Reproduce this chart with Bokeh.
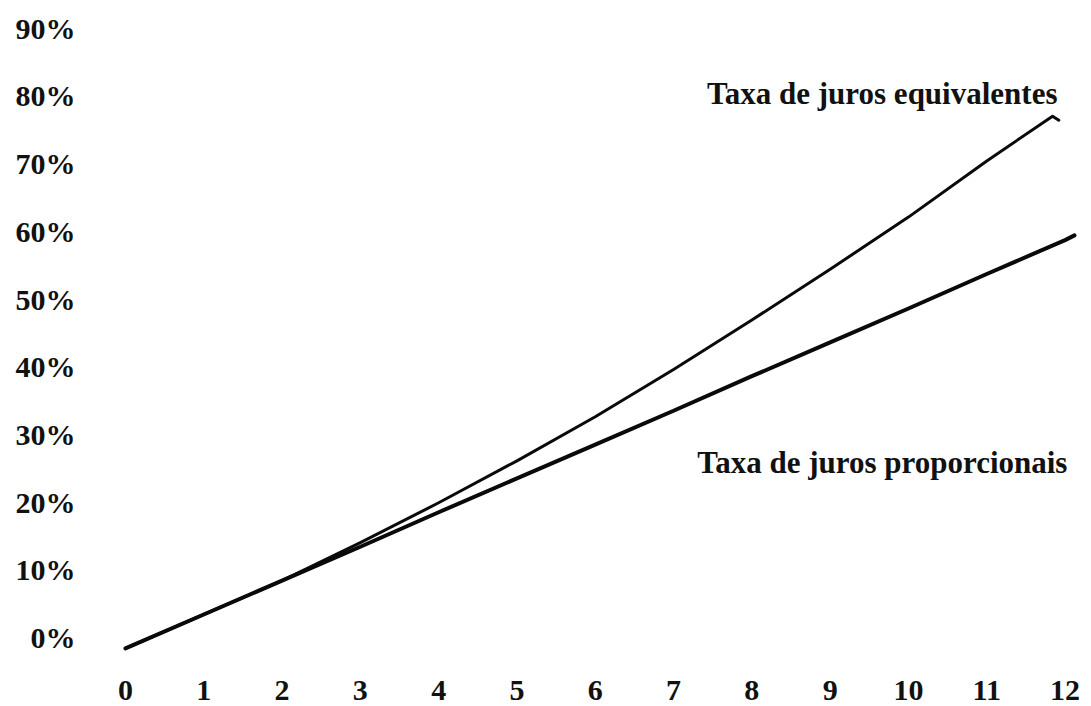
from bokeh.plotting import figure
from bokeh.models import Range1d, FixedTicker, Label
from bokeh.embed import file_html
from bokeh.resources import INLINE

# Data (month, rate in %)
prop_months = [0, 1, 2, 3, 4, 5, 6, 7, 8, 9, 10, 11, 12, 12.12]
prop_rates = [-1.6, 3.4, 8.4, 13.4, 18.5, 23.5, 28.5, 33.5, 38.6, 43.6, 48.6, 53.7, 58.7, 59.4]

equiv_months = [0, 1, 2, 3, 4, 5, 6, 7, 8, 9, 10, 11, 11.84, 11.92]
equiv_rates = [-1.6, 3.4, 8.4, 14.0, 19.9, 26.1, 32.6, 39.6, 46.9, 54.4, 62.1, 70.4, 77.0, 76.4]

x_ticks = [0, 1, 2, 3, 4, 5, 6, 7, 8, 9, 10, 11, 12]
x_tick_labels = ["0", "1", "2", "3", "4", "5", "6", "7", "8", "9", "10", "11", "12"]
y_ticks = [0, 10, 20, 30, 40, 50, 60, 70, 80, 90]
y_tick_labels = ["0%", "10%", "20%", "30%", "40%", "50%", "60%", "70%", "80%", "90%"]

label_equiv = "Taxa de juros equivalentes"
label_prop = "Taxa de juros proporcionais"

FONT = "Liberation Serif"

p = figure(width=1085, height=706, output_backend="svg", toolbar_location=None,
           x_range=Range1d(-0.536, 12.197), y_range=Range1d(-4.136, 91.88),
           min_border_left=83, min_border_right=5, min_border_top=15, min_border_bottom=41)

p.background_fill_color = "white"
p.border_fill_color = "white"
p.outline_line_color = None
p.xgrid.visible = False
p.ygrid.visible = False

for ax in (p.xaxis[0], p.yaxis[0]):
    ax.axis_line_color = None
    ax.major_tick_line_color = None
    ax.minor_tick_line_color = None
    ax.major_tick_out = 0
    ax.major_tick_in = 0
    ax.minor_tick_out = 0
    ax.major_label_text_font = FONT
    ax.major_label_text_font_style = "bold"
    ax.major_label_text_color = "#111111"

p.xaxis[0].ticker = FixedTicker(ticks=x_ticks)
p.xaxis[0].major_label_overrides = {t: l for t, l in zip(x_ticks, x_tick_labels)}
p.xaxis[0].major_label_text_font_size = "30px"
p.xaxis[0].major_label_standoff = 15

p.yaxis[0].ticker = FixedTicker(ticks=y_ticks)
p.yaxis[0].major_label_overrides = {t: l for t, l in zip(y_ticks, y_tick_labels)}
p.yaxis[0].major_label_text_font_size = "30px"
p.yaxis[0].major_label_standoff = 8

p.line(prop_months, prop_rates, line_color="#0a0a0a", line_width=4, line_cap="round")
p.line(equiv_months, equiv_rates, line_color="#0a0a0a", line_width=3, line_cap="round",
       line_join="round")

p.add_layout(Label(x=11.903, y=80.35, text=label_equiv, text_align="right",
                   text_baseline="alphabetic", text_font=FONT, text_font_style="bold",
                   text_font_size="31px", text_color="#111111"))
p.add_layout(Label(x=12.03, y=25.85, text=label_prop, text_align="right",
                   text_baseline="alphabetic", text_font=FONT, text_font_style="bold",
                   text_font_size="31px", text_color="#111111"))

open("out.html", "w").write(file_html(p, INLINE))
